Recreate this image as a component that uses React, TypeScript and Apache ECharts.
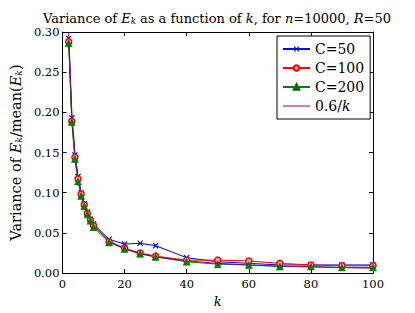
import React, { useEffect, useRef } from "react";
import * as echarts from "echarts";

const ks = [2, 3, 4, 5, 6, 7, 8, 9, 10, 15, 20, 25, 30, 40, 50, 60, 70, 80, 90, 100];
const c50 = [0.292, 0.193, 0.147, 0.12, 0.1, 0.086, 0.076, 0.067, 0.061, 0.042, 0.036, 0.037, 0.034, 0.019, 0.014, 0.012, 0.01, 0.01, 0.01, 0.01];
const c100 = [0.288, 0.189, 0.144, 0.117, 0.098, 0.085, 0.074, 0.066, 0.059, 0.039, 0.031, 0.025, 0.021, 0.016, 0.016, 0.015, 0.012, 0.01, 0.009, 0.009];
const c200 = [0.286, 0.188, 0.142, 0.114, 0.096, 0.083, 0.073, 0.065, 0.057, 0.038, 0.03, 0.024, 0.02, 0.014, 0.011, 0.01, 0.008, 0.008, 0.007, 0.007];
const ref = [0.3, 0.2, 0.15, 0.12, 0.1, 0.0857, 0.075, 0.0667, 0.06, 0.04, 0.03, 0.024, 0.02, 0.015, 0.012, 0.01, 0.00857, 0.0075, 0.00667, 0.006];
const seriesNames = ["C=50", "C=100", "C=200", "0.6/k"];

const FONT = "DejaVu Serif";
const CROSS = "path://M0,1.4L1.4,0L5,3.6L8.6,0L10,1.4L6.4,5L10,8.6L8.6,10L5,6.4L1.4,10L0,8.6L3.6,5Z";
const LINE_ICON = "path://M0,0L270,0L270,10L0,10Z";

const pair = (ys: number[]) => ks.map((k, i) => [k, ys[i]]);

export default function App() {
  const ref1 = useRef<HTMLDivElement>(null);
  useEffect(() => {
    if (!ref1.current) return;
    const chart = echarts.init(ref1.current, null, { renderer: "svg" });
    const axisCommon = {
      axisLine: { show: true, onZero: false, lineStyle: { color: "#000", width: 1 } },
      axisTick: { show: true, inside: true, length: 4, lineStyle: { color: "#000" } },
      splitLine: { show: false },
    };
    const mk = (fs: number) => ({
      i: { fontFamily: FONT, fontSize: fs, fontStyle: "italic", color: "#000" },
      s: { fontFamily: FONT, fontSize: fs * 0.65, fontStyle: "italic", color: "#000", verticalAlign: "bottom", padding: [6, 0, 0, 0] },
      t: { fontFamily: FONT, fontSize: fs, color: "#000" },
    });
    chart.setOption({
      animation: false,
      title: {
        text: "Variance of {i|E}{s|k} as a function of {i|k}, for {i|n}{t|=10000, }{i|R}{t|=50}",
        left: 212,
        textAlign: "center",
        top: 6,
        textStyle: {
          fontFamily: FONT,
          fontSize: 13,
          fontWeight: "normal",
          color: "#000",
          rich: mk(13),
        },
      },
      legend: {
        orient: "vertical",
        left: 277,
        top: 36,
        padding: [5, 6, 5, 5],
        itemGap: 3,
        itemWidth: 27,
        itemHeight: 7,
        borderColor: "#000",
        borderWidth: 1,
        backgroundColor: "#fff",
        borderRadius: 0,
        data: [
          { name: seriesNames[0] },
          { name: seriesNames[1] },
          { name: seriesNames[2] },
          { name: seriesNames[3], icon: LINE_ICON, itemStyle: { color: "#800080" } },
        ],
        formatter: (n: string) => (n === "0.6/k" ? "{n|0.6/}{i|k}" : n),
        textStyle: {
          fontFamily: FONT,
          fontSize: 14,
          lineHeight: 16,
          color: "#000",
          rich: {
            n: { fontFamily: FONT, fontSize: 14, color: "#000" },
            i: { fontFamily: FONT, fontSize: 14, fontStyle: "italic", color: "#000" },
          },
        },
      },
      grid: { left: 52, right: 42, top: 32, bottom: 32, containLabel: false },
      xAxis: [
        {
          type: "value",
          min: 0,
          max: 100,
          interval: 20,
          position: "bottom",
          ...axisCommon,
          axisLabel: { margin: 5, fontFamily: FONT, fontSize: 11.5, color: "#000" },
          name: "k",
          nameLocation: "middle",
          nameGap: 22,
          nameTextStyle: { fontFamily: FONT, fontSize: 13, fontStyle: "italic", color: "#000" },
        },
        {
          type: "value",
          min: 0,
          max: 100,
          interval: 20,
          position: "top",
          ...axisCommon,
          axisLabel: { show: false },
        },
      ],
      yAxis: [
        {
          type: "value",
          min: 0,
          max: 0.3,
          interval: 0.05,
          position: "left",
          ...axisCommon,
          axisLabel: {
            margin: 3,
            fontFamily: FONT,
            fontSize: 11.5,
            color: "#000",
            formatter: (v: number) => v.toFixed(2),
          },
          name: "{t|Variance of }{i|E}{s|k}{t|/mean(}{i|E}{s|k}{t|)}",
          nameLocation: "middle",
          nameGap: 31,
          nameRotate: 90,
          nameTextStyle: {
            fontFamily: FONT,
            fontSize: 14.5,
            color: "#000",
            rich: mk(14.5),
          },
        },
        {
          type: "value",
          min: 0,
          max: 0.3,
          interval: 0.05,
          position: "right",
          ...axisCommon,
          axisLabel: { show: false },
        },
      ],
      series: [
        {
          name: seriesNames[0],
          type: "line",
          data: pair(c50),
          symbol: CROSS,
          symbolSize: 6,
          lineStyle: { color: "#0000ff", width: 1 },
          itemStyle: { color: "#0000ff" },
        },
        {
          name: seriesNames[1],
          type: "line",
          data: pair(c100),
          symbol: "circle",
          symbolSize: 6,
          lineStyle: { color: "#ff0000", width: 1 },
          itemStyle: { color: "#ffb0b0", borderColor: "#ff0000", borderWidth: 1.5 },
        },
        {
          name: seriesNames[2],
          type: "line",
          data: pair(c200),
          symbol: "triangle",
          symbolSize: 7,
          lineStyle: { color: "#008000", width: 1 },
          itemStyle: { color: "#008000", borderColor: "#006000", borderWidth: 0.5 },
        },
        {
          name: seriesNames[3],
          type: "line",
          data: pair(ref),
          symbol: "none",
          showSymbol: false,
          lineStyle: { color: "#800080", width: 1 },
          itemStyle: { color: "#800080" },
        },
      ],
    });
    return () => chart.dispose();
  }, []);
  return <div ref={ref1} style={{ width: 415, height: 313, position: "absolute", left: 0, top: 0, background: "#fff" }} />;
}
